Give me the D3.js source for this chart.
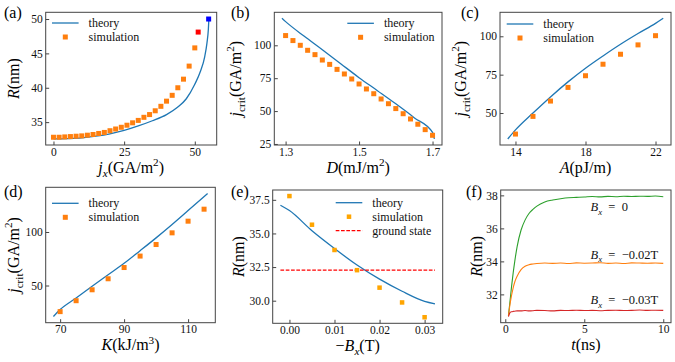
<!DOCTYPE html>
<html>
<head>
<meta charset="utf-8">
<script src="https://cdn.jsdelivr.net/npm/d3@7"></script>
<style>
  body { margin: 0; background: #fff; }
  svg { display: block; font-family: "Liberation Serif", "DejaVu Serif", serif; }
</style>
</head>
<body>
<div id="chart"></div>
<script>
// (a) skyrmion radius vs current
var jxSim = [0, 2, 4, 6, 8, 10, 12, 14, 16, 18, 20, 22, 24, 26, 28, 30, 32, 34, 36, 38, 40, 42, 44, 46, 48, 50];
var rSimA = [32.8, 32.8, 32.85, 32.9, 32.95, 33.0, 33.1, 33.2, 33.35, 33.5, 33.75, 34.0, 34.25, 34.55, 34.9, 35.25, 35.7, 36.1, 36.65, 37.3, 38.05, 38.9, 40.0, 41.25, 43.15, 45.8];
var jxTheory = [0, 5, 10, 15, 20, 25, 30, 35, 40, 44, 47, 50, 52, 53.5, 54.3, 54.8, 55.0];
var rTheoryA = [32.55, 32.6, 32.7, 32.95, 33.3, 33.8, 34.45, 35.2, 36.1, 37.2, 38.4, 40.5, 42.4, 44.5, 46.5, 48.5, 50.1];
var redPoint = [51.2, 48.1];
var bluePoint = [54.9, 50.0];

// (b) critical current vs D
var dSim = [1.30, 1.32, 1.34, 1.36, 1.38, 1.40, 1.42, 1.44, 1.46, 1.48, 1.50, 1.52, 1.54, 1.56, 1.58, 1.60, 1.62, 1.64, 1.66, 1.68, 1.70];
var jSimB = [107.4, 103.6, 100, 96.2, 92.9, 88.8, 85.5, 81.7, 78.2, 74.4, 70.6, 66.8, 63.2, 59.2, 55.6, 51.9, 48.0, 44.0, 40.0, 35.9, 31.6];
var dTheory = [1.29, 1.30, 1.35, 1.40, 1.45, 1.50, 1.55, 1.60, 1.65, 1.70, 1.705];
var jTheoryB = [120.5, 118, 107, 96.6, 86, 75.4, 65.5, 55.5, 45, 33.8, 28.8];

// (c) critical current vs A
var aSim = [14, 15, 16, 17, 18, 19, 20, 21, 22];
var jSimC = [36.3, 47.8, 57.8, 66.7, 74.3, 81.8, 88.3, 94.4, 100.4];
var aTheory = [13.56, 14, 15, 16, 17, 18, 19, 20, 21, 22, 22.44];
var jTheoryC = [33.1, 39, 50, 60.5, 70.3, 79.2, 87.2, 94.8, 101.8, 108.4, 111.7];

// (d) critical current vs K
var kSim = [70, 75, 80, 85, 90, 95, 100, 105, 110, 115];
var jSimD = [25.6, 35.8, 46, 56.3, 66.8, 77.5, 88.3, 99.2, 110.1, 121.3];
var kTheory = [67.9, 70, 75, 80, 85, 90, 95, 100, 105, 110, 116.1];
var jTheoryD = [21, 27.5, 38.3, 49.3, 60, 70.7, 82.5, 94.5, 107, 120, 136];

// (e) radius vs field
var bSim = [0, 0.005, 0.01, 0.015, 0.02, 0.025, 0.03];
var rSimE = [37.78, 35.65, 33.77, 32.27, 30.97, 29.87, 28.77];
var bTheory = [-0.002, 0, 0.005, 0.01, 0.015, 0.02, 0.025, 0.03, 0.0323];
var rTheoryE = [37.1, 36.7, 35.2, 33.88, 32.65, 31.6, 30.7, 29.95, 29.77];
var groundR = 32.28;

// (f) radius vs time
var tF = [0.2, 0.3, 0.4, 0.5, 0.6, 0.75, 1.0, 1.25, 1.5, 1.75, 2.0, 2.5, 3.0, 3.5, 4.0, 4.5, 5.0, 5.5, 6.0, 6.5, 7.0, 7.5, 8.0, 8.5, 9.0, 9.5, 10.0];
var rGreen = [30.7, 31.6, 32.5, 33.3, 34.0, 34.9, 35.9, 36.5, 36.9, 37.15, 37.35, 37.6, 37.72, 37.8, 37.86, 37.88, 37.9, 37.93, 37.91, 37.94, 37.92, 37.95, 37.93, 37.95, 37.94, 37.96, 37.92];
var rOrange = [30.7, 31.4, 31.95, 32.4, 32.75, 33.1, 33.5, 33.7, 33.8, 33.84, 33.87, 33.9, 33.88, 33.9, 33.87, 33.91, 33.89, 33.9, 33.92, 33.88, 33.9, 33.87, 33.91, 33.9, 33.89, 33.9, 33.88];
var rRed = [30.65, 30.9, 30.95, 30.97, 30.98, 31.0, 31.0, 31.02, 31.0, 31.01, 31.03, 31.02, 31.0, 31.03, 31.02, 31.04, 31.02, 31.03, 31.01, 31.03, 31.04, 31.02, 31.03, 31.05, 31.03, 31.04, 31.03];
var fLabels = [
  { y: 37.03, parts: [['B', 'i'], ['x', 'isub'], ['\u2002=\u20020', '']] },
  { y: 34.17, parts: [['B', 'i'], ['x', 'isub'], ['\u2002=\u2002\u22120.02T', '']] },
  { y: 31.39, parts: [['B', 'i'], ['x', 'isub'], ['\u2002=\u2002\u22120.03T', '']] }
];

var blue = '#1f77b4', orange = '#ff7f0e';

var svg = d3.select('#chart').append('svg')
  .attr('width', 675)
  .attr('height', 362);

function pad(ext) {
  var d = (ext[1] - ext[0]) * 0.05;
  return [ext[0] - d, ext[1] + d];
}

function rich(t, parts, size) {
  var shift = 0;
  parts.forEach(function(p) {
    var target = (p[1] === 'sub' || p[1] === 'isub') ? size * 0.28 : (p[1] === 'sup' ? -size * 0.4 : 0);
    var ts = t.append('tspan').text(p[0]).attr('dy', target - shift);
    shift = target;
    if (p[1] === 'i' || p[1] === 'isub') ts.attr('font-style', 'italic');
    if (p[1] === 'sub' || p[1] === 'isub' || p[1] === 'sup') ts.attr('font-size', size * 0.7);
  });
}

function panel(p) {
  var x = d3.scaleLinear().domain(pad(d3.extent(d3.merge(p.xs)))).range([p.box[0], p.box[2]]);
  var y = d3.scaleLinear().domain(pad(d3.extent(d3.merge(p.ys)))).range([p.box[3], p.box[1]]);
  var g = svg.append('g');

  var ax = g.append('g')
    .attr('transform', 'translate(0,' + p.box[3] + ')')
    .call(d3.axisBottom(x).tickValues(p.xTicks).tickFormat(d3.format(p.xFmt || ''))
      .tickSizeInner(-3.5).tickSizeOuter(0).tickPadding(2.5));
  var ay = g.append('g')
    .attr('transform', 'translate(' + p.box[0] + ',0)')
    .call(d3.axisLeft(y).tickValues(p.yTicks).tickFormat(d3.format(p.yFmt || ''))
      .tickSizeInner(-3.5).tickSizeOuter(0).tickPadding(3));
  [ax, ay].forEach(function(a) {
    a.attr('font-family', null).attr('font-size', 11.5);
    a.select('.domain').remove();
    a.selectAll('line').attr('stroke', '#444');
    a.selectAll('text').attr('fill', '#111');
  });

  g.append('rect')
    .attr('x', p.box[0]).attr('y', p.box[1])
    .attr('width', p.box[2] - p.box[0]).attr('height', p.box[3] - p.box[1])
    .attr('fill', 'none').attr('stroke', '#444').attr('stroke-width', 1);

  var xl = g.append('text')
    .attr('x', (p.box[0] + p.box[2]) / 2).attr('y', p.box[3] + 27.5)
    .attr('text-anchor', 'middle').attr('font-size', 16);
  rich(xl, p.xLabel, 16);

  var cy = (p.box[1] + p.box[3]) / 2;
  var yl = g.append('text')
    .attr('transform', 'translate(' + p.yLabelX + ',' + cy + ') rotate(-90)')
    .attr('text-anchor', 'middle').attr('y', 5.5).attr('font-size', 16);
  rich(yl, p.yLabel, 16);

  g.append('text')
    .attr('x', p.tag[0]).attr('y', p.tag[1])
    .attr('font-size', 16).text(p.tagText);

  return { g: g, x: x, y: y };
}

function theoryLine(pn, xs, ys, color) {
  var pts = xs.map(function(d, i) { return [d, ys[i]]; });
  pn.g.append('path')
    .datum(pts)
    .attr('fill', 'none')
    .attr('stroke', color)
    .attr('stroke-width', 1.3)
    .attr('d', d3.line()
      .x(function(d) { return pn.x(d[0]); })
      .y(function(d) { return pn.y(d[1]); })
      .curve(d3.curveMonotoneX));
}

function squares(pn, xs, ys, color, size) {
  pn.g.selectAll(null)
    .data(xs.map(function(d, i) { return [d, ys[i]]; }))
    .enter()
    .append('rect')
      .attr('x', function(d) { return pn.x(d[0]) - size / 2; })
      .attr('y', function(d) { return pn.y(d[1]) - size / 2; })
      .attr('width', size)
      .attr('height', size)
      .attr('fill', color);
}

function legend(pn, x0, y0, rows) {
  rows.forEach(function(r, i) {
    var yy = y0 + i * 14;
    if (r.type === 'line') {
      pn.g.append('line')
        .attr('x1', x0).attr('x2', x0 + 26.6).attr('y1', yy).attr('y2', yy)
        .attr('stroke', r.color).attr('stroke-width', 1.3)
        .attr('stroke-dasharray', r.dash || null);
    } else {
      pn.g.append('rect')
        .attr('x', x0 + 13.3 - r.size / 2).attr('y', yy - r.size / 2)
        .attr('width', r.size).attr('height', r.size)
        .attr('fill', r.color);
    }
    pn.g.append('text')
      .attr('x', x0 + 36.6).attr('y', yy + 4)
      .attr('font-size', 12).attr('fill', '#111')
      .text(r.label);
  });
}

var jUnit = [['(GA/m', ''], ['2', 'sup'], [')', '']];
var jCrit = [['j', 'i'], ['crit', 'sub']].concat(jUnit);
var stdLegend = [
  { type: 'line', color: blue, label: 'theory' },
  { type: 'sq', color: orange, size: 5, label: 'simulation' }
];

// (a)
var pa = panel({
  box: [45.7, 12.3, 216.7, 145],
  xs: [jxSim, jxTheory, [redPoint[0], bluePoint[0]]],
  ys: [rSimA, rTheoryA, [redPoint[1], bluePoint[1]]],
  xTicks: [0, 25, 50], yTicks: [35, 40, 45, 50],
  xLabel: [['j', 'i'], ['x', 'isub']].concat(jUnit),
  yLabel: [['R', 'i'], ['(nm)', '']], yLabelX: 13.3,
  tag: [4, 17.5], tagText: '(a)'
});
theoryLine(pa, jxTheory, rTheoryA, blue);
squares(pa, jxSim, rSimA, orange, 5);
squares(pa, [redPoint[0]], [redPoint[1]], '#ff0000', 5);
squares(pa, [bluePoint[0]], [bluePoint[1]], '#0000ff', 5);
legend(pa, 52, 23, stdLegend);

// (b)
var pb = panel({
  box: [274.3, 12.3, 442, 145],
  xs: [dSim, dTheory], ys: [jSimB, jTheoryB],
  xTicks: [1.3, 1.5, 1.7], yTicks: [25, 50, 75, 100],
  xLabel: [['D', 'i'], ['(mJ/m', ''], ['2', 'sup'], [')', '']],
  yLabel: jCrit, yLabelX: 235,
  tag: [231, 17.5], tagText: '(b)'
});
theoryLine(pb, dTheory, jTheoryB, blue);
squares(pb, dSim, jSimB, orange, 5);
legend(pb, 347.3, 23.3, stdLegend);

// (c)
var pc = panel({
  box: [500, 12.3, 671, 145],
  xs: [aSim, aTheory], ys: [jSimC, jTheoryC],
  xTicks: [14, 18, 22], yTicks: [50, 75, 100],
  xLabel: [['A', 'i'], ['(pJ/m)', '']],
  yLabel: jCrit, yLabelX: 460,
  tag: [461, 17.5], tagText: '(c)'
});
theoryLine(pc, aTheory, jTheoryC, blue);
squares(pc, aSim, jSimC, orange, 5);
legend(pc, 506.7, 24, stdLegend);

// (d)
var pd = panel({
  box: [45.7, 187.3, 215.3, 322.7],
  xs: [kSim, kTheory], ys: [jSimD, jTheoryD],
  xTicks: [70, 90, 110], yTicks: [50, 100],
  xLabel: [['K', 'i'], ['(kJ/m', ''], ['3', 'sup'], [')', '']],
  yLabel: jCrit, yLabelX: 13.3,
  tag: [4, 196.7], tagText: '(d)'
});
theoryLine(pd, kTheory, jTheoryD, blue);
squares(pd, kSim, jSimD, orange, 5);
legend(pd, 52, 203.3, stdLegend);

// (e)
var pe = panel({
  box: [272.7, 190, 442.7, 323.3],
  xs: [bSim, bTheory], ys: [rSimE, rTheoryE, [groundR]],
  xTicks: [0, 0.01, 0.02, 0.03], yTicks: [30, 32.5, 35, 37.5],
  xFmt: '.2f', yFmt: '.1f',
  xLabel: [['\u2212', ''], ['B', 'i'], ['x', 'isub'], ['(T)', '']],
  yLabel: [['R', 'i'], ['(nm)', '']], yLabelX: 238,
  tag: [231, 196.7], tagText: '(e)'
});
theoryLine(pe, bTheory, rTheoryE, blue);
pe.g.append('line')
  .attr('x1', pe.x(d3.min(bTheory))).attr('x2', pe.x(d3.max(bTheory)))
  .attr('y1', pe.y(groundR)).attr('y2', pe.y(groundR))
  .attr('stroke', '#ff0000').attr('stroke-width', 1.2)
  .attr('stroke-dasharray', '3.7,1.6');
squares(pe, bSim, rSimE, '#ffa500', 4.5);
legend(pe, 335.7, 202.7, [
  { type: 'line', color: blue, label: 'theory' },
  { type: 'sq', color: '#ffa500', size: 4.5, label: 'simulation' },
  { type: 'line', color: '#ff0000', dash: '3.7,1.6', label: 'ground state' }
]);

// (f)
var pf = panel({
  box: [500.7, 190, 671, 322.7],
  xs: [tF], ys: [rGreen, rOrange, rRed],
  xTicks: [0, 5, 10], yTicks: [32, 34, 36, 38],
  xLabel: [['t', 'i'], ['(ns)', '']],
  yLabel: [['R', 'i'], ['(nm)', '']], yLabelX: 476,
  tag: [466, 196.7], tagText: '(f)'
});
[[rGreen, '#2ca02c'], [rOrange, orange], [rRed, '#d62728']].forEach(function(s) {
  pf.g.append('path')
    .datum(tF.map(function(t, i) { return [t, s[0][i]]; }))
    .attr('fill', 'none')
    .attr('stroke', s[1])
    .attr('stroke-width', 1.1)
    .attr('d', d3.line()
      .x(function(d) { return pf.x(d[0]); })
      .y(function(d) { return pf.y(d[1]); })
      .curve(d3.curveMonotoneX));
});
fLabels.forEach(function(l) {
  var t = pf.g.append('text')
    .attr('x', pf.x(5.4)).attr('y', pf.y(l.y))
    .attr('font-size', 12.5).attr('fill', '#111');
  rich(t, l.parts, 12.5);
});
</script>
</body>
</html>
